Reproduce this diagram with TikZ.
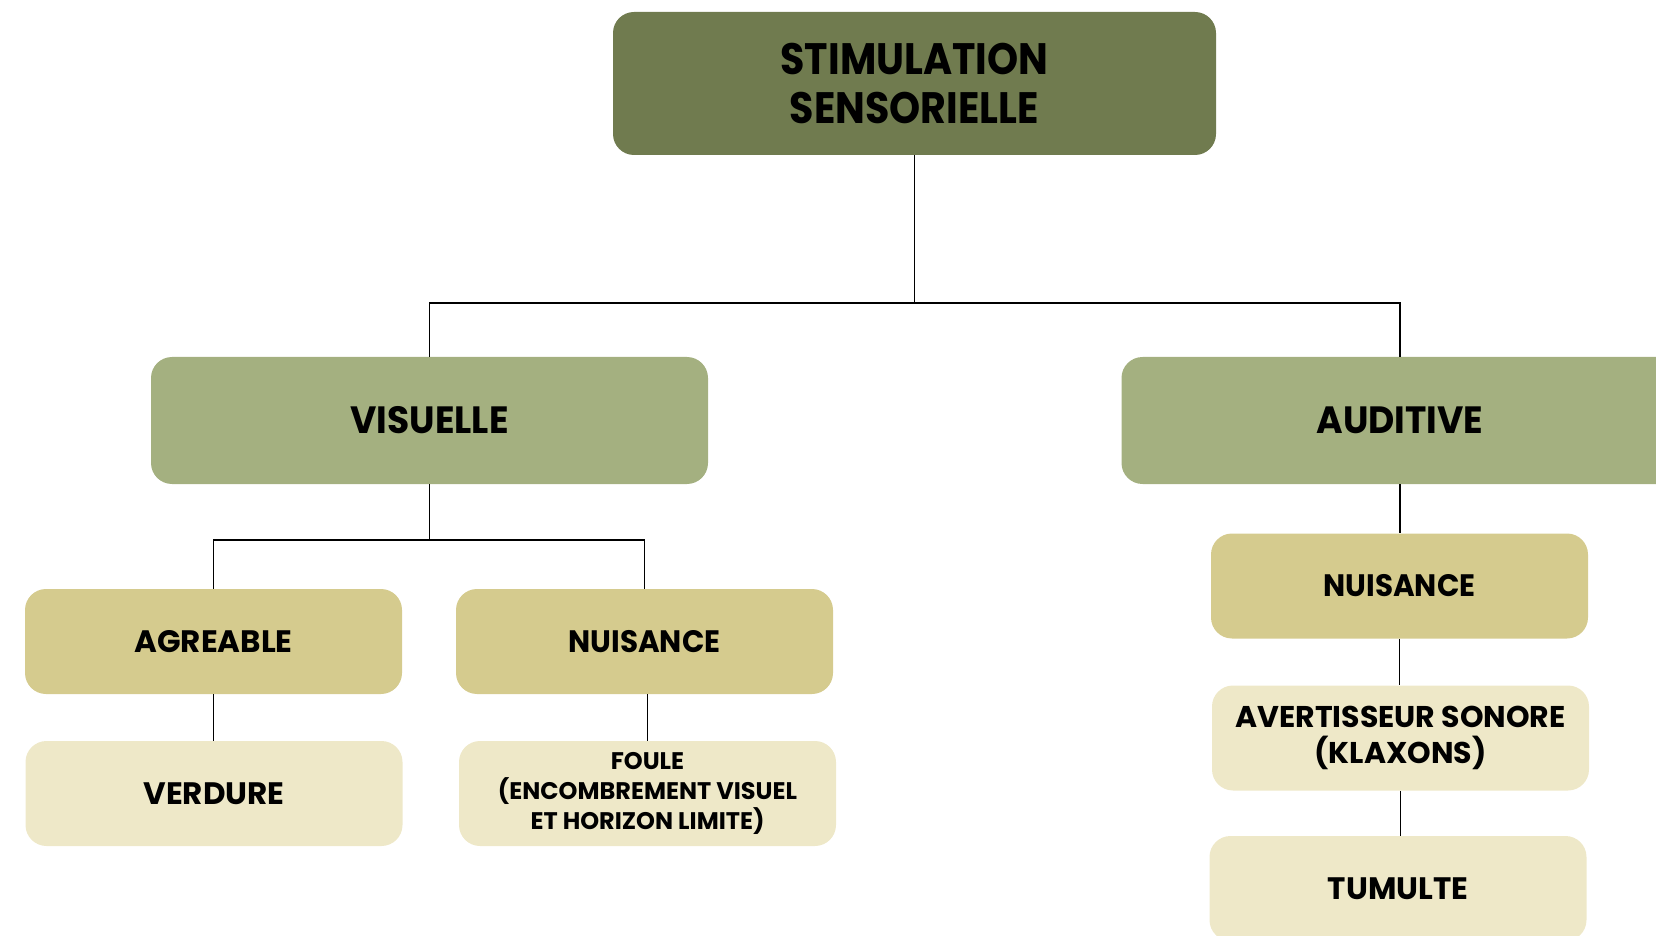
\documentclass[tikz,border=0pt]{standalone}
\usepackage{fontspec}
\setmainfont{Poppins}
\newfontfamily\popnarrow{Poppins}[FakeStretch=0.9]
\newfontfamily\popmid{Poppins}[FakeStretch=0.95]
\definecolor{lvone}{HTML}{707B4F}
\definecolor{lvtwo}{HTML}{A4B080}
\definecolor{lvthree}{HTML}{D5CB8E}
\definecolor{lvfour}{HTML}{EEE8C8}
\tikzset{
  box/.style={rectangle, rounded corners=10.5pt, draw=none, align=center, text=black, font=\bfseries, inner sep=0pt},
  topbox/.style={box, fill=lvone, minimum width=301.5pt, minimum height=71.5pt, font=\popnarrow\bfseries\fontsize{22}{24.8}\selectfont},
  midbox/.style={box, fill=lvtwo, minimum width=278.5pt, minimum height=63.5pt, font=\popmid\bfseries\fontsize{19}{22}\selectfont},
  catbox/.style={box, fill=lvthree, minimum width=188.5pt, minimum height=52.5pt, font=\bfseries\fontsize{15.5}{18}\selectfont},
  leafbox/.style={box, fill=lvfour, minimum width=188.5pt, minimum height=52.5pt, font=\bfseries\fontsize{15.5}{18}\selectfont},
  smallleaf/.style={leafbox, font=\bfseries\fontsize{12}{14.8}\selectfont},
  link/.style={draw=black, line width=0.9pt}
}
\begin{document}
\begin{tikzpicture}[x=0.5pt, y=-0.5pt]
\useasboundingbox (0,0) rectangle (1656,936);
\clip (0,0) rectangle (1656,936);
\node[topbox] (top) at (914.5,83.5) {STIMULATION\\SENSORIELLE};
\node[midbox] (vis) at (429.5,420.5) {VISUELLE};
\node[midbox] (aud) at (1400,420.5) {AUDITIVE};
\node[catbox] (agr) at (213.5,641.5) {AGREABLE};
\node[catbox, font=\popmid\bfseries\fontsize{15.5}{18}\selectfont] (nuil) at (644.5,641.5) {NUISANCE};
\node[leafbox] (verd) at (214,793.5) {VERDURE};
\node[smallleaf] (foule) at (647.5,793.5) {FOULE\\(ENCOMBREMENT VISUEL\\ET HORIZON LIMITE)};
\node[catbox, font=\popmid\bfseries\fontsize{15.5}{18}\selectfont] (nuir) at (1399.5,586) {NUISANCE};
\node[leafbox, font=\bfseries\fontsize{15}{18}\selectfont] (avert) at (1400.5,738) {AVERTISSEUR SONORE\\(KLAXONS)};
\node[leafbox] (tum) at (1398,888.5) {TUMULTE};
\coordinate (b1) at (914.5,303);
\coordinate (b2) at (429.5,540);
\draw[link] (top.south) -- (b1);
\draw[link] (vis.north) |- (b1) -| (aud.north);
\draw[link] (vis.south) -- (b2);
\draw[link] (agr.north) |- (b2) -| (nuil.north);
\draw[link] (agr.south) -- (agr.south |- verd.north);
\draw[link] (foule.north) -- (foule.north |- nuil.south);
\draw[link] (aud.south) -- (aud.south |- nuir.north);
\draw[link] (nuir.south) -- (nuir.south |- avert.north);
\draw[link] (avert.south) -- (avert.south |- tum.north);
\end{tikzpicture}
\end{document}
